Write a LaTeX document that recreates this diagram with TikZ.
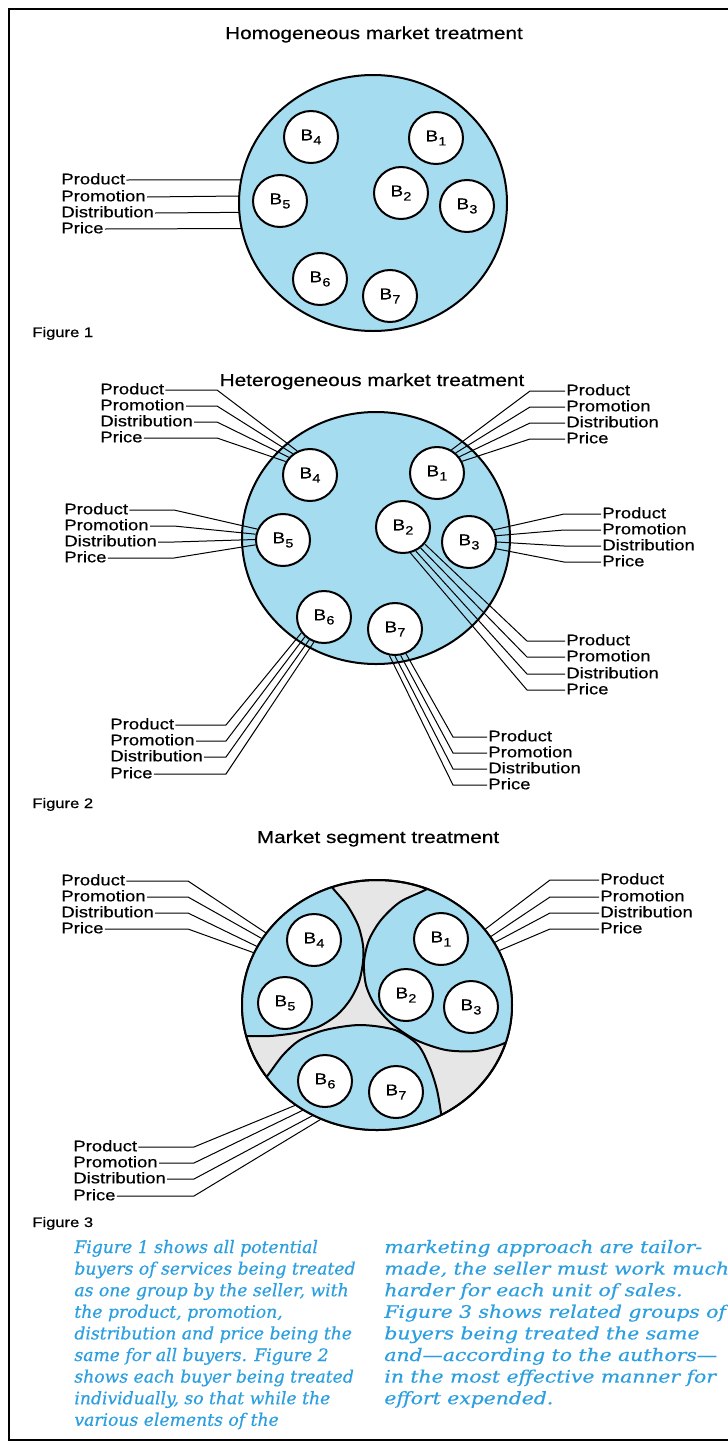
\documentclass[tikz,border=0pt]{standalone}
\usepackage{fontspec}
\usetikzlibrary{shapes.geometric}
\newfontfamily\labf{Liberation Sans}[FakeStretch=1.2,FakeBold=0.5]
\newfontfamily\capf{DejaVu Serif}[FakeBold=0.4]
\newfontfamily\capfr{DejaVu Serif}[FakeStretch=1.18,FakeBold=0.4]
\definecolor{mktblue}{HTML}{A6DCF0}
\definecolor{seggrey}{HTML}{E6E6E6}
\definecolor{capblue}{HTML}{2B9FE0}
\newcommand\Bsb[1]{B\kern0.15pt\raisebox{-2.1pt}{\fontsize{6}{6}\selectfont #1}}
\tikzset{
  lab/.style={font=\labf\fontsize{7.7}{9}\selectfont, inner xsep=0.7pt, inner ysep=0pt, outer sep=0pt},
  ttl/.style={font=\labf\fontsize{8.65}{10}\selectfont, inner sep=0pt, anchor=base},
  figl/.style={font=\labf\fontsize{6.9}{8}\selectfont, inner sep=0pt, anchor=base west},
  bub/.style={ellipse, draw, line width=1pt, fill=white, minimum width=27pt, minimum height=26pt, inner sep=0pt, font=\labf\fontsize{7.8}{9}\selectfont},
  market/.style={ellipse, draw, line width=1pt, fill=mktblue, outer sep=0pt, inner sep=0pt},
  conn/.style={line width=0.5pt},
  segarc/.style={line width=1pt},
  capl/.style={font=\capf\itshape\fontsize{8.6}{10}\selectfont, text=capblue, inner sep=0pt, anchor=base west},
  capr/.style={font=\capfr\itshape\fontsize{8.6}{10}\selectfont, text=capblue, inner sep=0pt, anchor=base west},
  frame/.style={line width=1.1pt}
}
\begin{document}
\begin{tikzpicture}[x=0.5pt,y=-0.5pt]
\useasboundingbox (0,0) rectangle (728,1446);
\fill[white] (0,0) rectangle (728,1446);
\draw[frame] (728,9) -- (9,9) -- (9,1440) -- (728,1440);

% ---------------- Figure 1 ----------------
\node[ttl] (t1) at (374,39) {Homogeneous market treatment};
\node[market, minimum width=134pt, minimum height=128pt] (e1) at (373,203) {};
\node[bub] (b14) at (311,137) {\Bsb{4}};
\node[bub] (b11) at (436,138) {\Bsb{1}};
\node[bub] (b15) at (280,201) {\Bsb{5}};
\node[bub] (b12) at (401,193) {\Bsb{2}};
\node[bub] (b13) at (467,206) {\Bsb{3}};
\node[bub] (b16) at (320,279) {\Bsb{6}};
\node[bub] (b17) at (390,296) {\Bsb{7}};
\foreach \t/\yy/\a [count=\i] in {Product/180/170.1,Promotion/197/177.4,Distribution/213/184.3,Price/229/191.2}{
  \node[lab,anchor=mid west] (l1\i) at (60,\yy) {\t};
  \draw[conn] (l1\i.mid east) -- (e1.\a);
}
\node[figl] (f1) at (32,337) {Figure 1};

% ---------------- Figure 2 ----------------
\node[ttl] (t2) at (372,386) {Heterogeneous market treatment};
\node[market, minimum width=134pt, minimum height=126pt] (e2) at (376,538) {};
\node[bub] (b24) at (310,475) {\Bsb{4}};
\node[bub] (b21) at (437,473) {\Bsb{1}};
\node[bub] (b25) at (283,540) {\Bsb{5}};
\node[bub] (b22) at (403,527) {\Bsb{2}};
\node[bub] (b23) at (469,542) {\Bsb{3}};
\node[bub] (b26) at (324,617) {\Bsb{6}};
\node[bub] (b27) at (395,629) {\Bsb{7}};
% B4 group
\coordinate (k24) at (217,0);
\foreach \t/\yy/\a [count=\i] in {Product/390/118,Promotion/406/129,Distribution/422/140,Price/438/151}{
  \node[lab,anchor=mid west] (l24\i) at (99,\yy) {\t};
  \draw[conn] (l24\i.mid east) -- (l24\i.mid east -| k24) -- (b24.\a);
}
% B1 group
\coordinate (k21) at (530,0);
\foreach \t/\yy/\a [count=\i] in {Product/391/58,Promotion/407/47,Distribution/423/36,Price/439/25}{
  \node[lab,anchor=mid west] (l21\i) at (565,\yy) {\t};
  \draw[conn] (b21.\a) -- (l21\i.mid west -| k21) -- (l21\i.mid west);
}
% B5 group
\coordinate (k25) at (174,0);
\foreach \t/\yy/\a [count=\i] in {Product/510/157,Promotion/526/168,Distribution/542/179,Price/558/190}{
  \node[lab,anchor=mid west] (l25\i) at (63,\yy) {\t};
  \draw[conn] (l25\i.mid east) -- (l25\i.mid east -| k25) -- (b25.\a);
}
% B3 group
\coordinate (k23) at (564,0);
\foreach \t/\yy/\a [count=\i] in {Product/514/26,Promotion/530/13,Distribution/546/0,Price/562/-14}{
  \node[lab,anchor=mid west] (l23\i) at (601,\yy) {\t};
  \draw[conn] (b23.\a) -- (l23\i.mid west -| k23) -- (l23\i.mid west);
}
% B2 group
\coordinate (k22) at (527,0);
\foreach \t/\yy/\a [count=\i] in {Product/641/-38,Promotion/657/-50,Distribution/674/-62,Price/690/-74}{
  \node[lab,anchor=mid west] (l22\i) at (565,\yy) {\t};
  \draw[conn] (b22.\a) -- (l22\i.mid west -| k22) -- (l22\i.mid west);
}
% B6 group
\coordinate (k26) at (226,0);
\foreach \t/\yy/\a [count=\i] in {Product/725/215,Promotion/741/226,Distribution/757/237,Price/774/248}{
  \node[lab,anchor=mid west] (l26\i) at (109,\yy) {\t};
  \draw[conn] (l26\i.mid east) -- (l26\i.mid east -| k26) -- (b26.\a);
}
% B7 group
\coordinate (k27) at (453,0);
\foreach \t/\yy/\a [count=\i] in {Product/737/-66,Promotion/753/-78,Distribution/769/-90,Price/785/-102}{
  \node[lab,anchor=mid west] (l27\i) at (487,\yy) {\t};
  \draw[conn] (b27.\a) -- (l27\i.mid west -| k27) -- (l27\i.mid west);
}
\node[figl] (f2) at (32,808) {Figure 2};

% ---------------- Figure 3 ----------------
\node[ttl] (t3) at (378,843) {Market segment treatment};
\node[ellipse, draw, line width=1pt, fill=seggrey, outer sep=0pt, inner sep=0pt, minimum width=135pt, minimum height=125pt] (o3) at (377,1005) {};
\begin{scope}
  \clip (o3.center) ellipse [x radius=67.5pt, y radius=62.5pt];
  \fill[mktblue] plot[smooth] coordinates {(325,873) (332,887) (347,905) (358,925) (363,945) (363,962) (359,982) (350,1000) (337,1015) (318,1027) (295,1033) (270,1036) (247,1036) (230,1036)} -- (200,1036) -- (200,850) -- (325,850) -- cycle;
  \fill[mktblue] plot[smooth] coordinates {(442,877) (427,889) (400,902) (381,920) (369,940) (364,962) (366,985) (375,1005) (392,1024) (416,1040) (446,1050) (476,1051) (500,1045) (516,1037)} -- (560,1037) -- (560,850) -- (442,850) -- cycle;
  \fill[mktblue] plot[smooth] coordinates {(256,1090) (268,1075) (283,1055) (300,1040) (325,1030) (360,1025) (395,1030) (418,1045) (430,1068) (437,1090) (441,1113) (443,1130)} -- (443,1160) -- (256,1160) -- cycle;
  \draw[segarc] plot[smooth] coordinates {(325,873) (332,887) (347,905) (358,925) (363,945) (363,962) (359,982) (350,1000) (337,1015) (318,1027) (295,1033) (270,1036) (247,1036) (230,1036)};
  \draw[segarc] plot[smooth] coordinates {(442,877) (427,889) (400,902) (381,920) (369,940) (364,962) (366,985) (375,1005) (392,1024) (416,1040) (446,1050) (476,1051) (500,1045) (516,1037)};
  \draw[segarc] plot[smooth] coordinates {(256,1090) (268,1075) (283,1055) (300,1040) (325,1030) (360,1025) (395,1030) (418,1045) (430,1068) (437,1090) (441,1113) (443,1130)};
\end{scope}
\draw[line width=1pt] (o3.center) ellipse [x radius=67.5pt, y radius=62.5pt];
\node[bub] (b34) at (314,940) {\Bsb{4}};
\node[bub] (b35) at (285,1003) {\Bsb{5}};
\node[bub] (b31) at (441,939) {\Bsb{1}};
\node[bub] (b32) at (406,995) {\Bsb{2}};
\node[bub] (b33) at (471,1007) {\Bsb{3}};
\node[bub] (b36) at (325,1081) {\Bsb{6}};
\node[bub] (b37) at (396,1092) {\Bsb{7}};
% left group
\coordinate (k3l) at (188,0);
\foreach \t/\yy/\a [count=\i] in {Product/881/147,Promotion/897/150.5,Distribution/913/154,Price/929/157.5}{
  \node[lab,anchor=mid west] (l3l\i) at (60,\yy) {\t};
  \draw[conn] (l3l\i.mid east) -- (l3l\i.mid east -| k3l) -- (o3.\a);
}
% right group
\coordinate (k3r) at (550,0);
\foreach \t/\yy/\a [count=\i] in {Product/880/35,Promotion/897/31.5,Distribution/913/28,Price/929/24.5}{
  \node[lab,anchor=mid west] (l3r\i) at (599,\yy) {\t};
  \draw[conn] (o3.\a) -- (l3r\i.mid west -| k3r) -- (l3r\i.mid west);
}
% bottom group
\coordinate (k3b) at (194,0);
\foreach \t/\yy/\a [count=\i] in {Product/1147/231,Promotion/1163/235.5,Distribution/1179/240,Price/1196/244.5}{
  \node[lab,anchor=mid west] (l3b\i) at (72,\yy) {\t};
  \draw[conn] (l3b\i.mid east) -- (l3b\i.mid east -| k3b) -- (o3.\a);
}
\node[figl] (f3) at (32,1227) {Figure 3};

% ---------------- Caption ----------------
\foreach \t [count=\i] in {{Figure 1 shows all potential},{buyers of services being treated},{as one group by the seller, with},{the product, promotion,},{distribution and price being the},{same for all buyers. Figure 2},{shows each buyer being treated},{individually, so that while the},{various elements of the}}{
  \node[capl] (cl\i) at (74,{1253+21.6*(\i-1)}) {\t};
}
\foreach \t [count=\i] in {{marketing approach are tailor-},{made, the seller must work much},{harder for each unit of sales.},{Figure 3 shows related groups of},{buyers being treated the same},{and—according to the authors—},{in the most effective manner for},{effort expended.}}{
  \node[capr] (cr\i) at (384,{1253+21.6*(\i-1)}) {\t};
}
\end{tikzpicture}
\end{document}
